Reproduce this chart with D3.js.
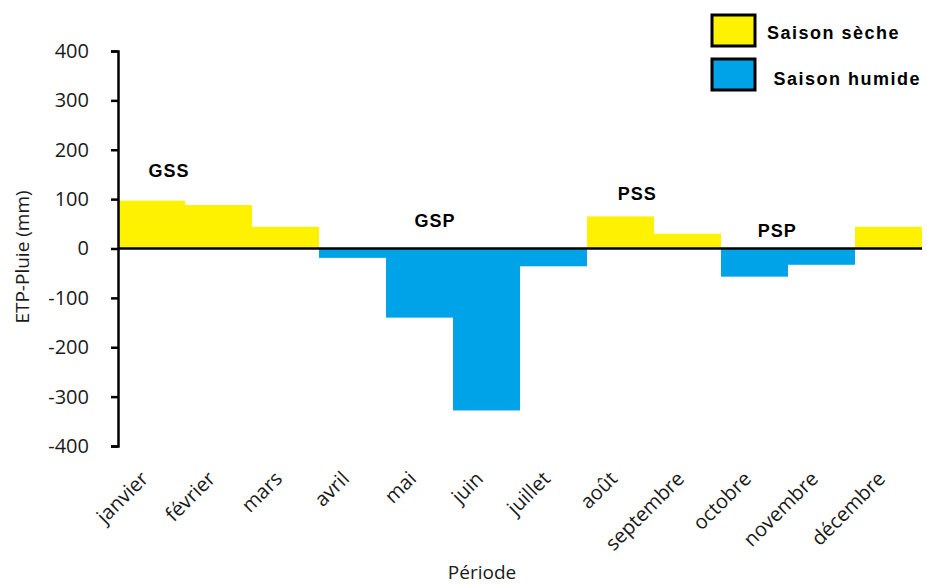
<!DOCTYPE html>
<html><head><meta charset="utf-8">
<script src="https://cdn.jsdelivr.net/npm/d3@7"></script>
<style>body{margin:0;background:#fff}svg{display:block}</style>
</head><body>
<svg id="c" width="927" height="586"></svg>
<script>
const months = ["janvier","février","mars","avril","mai","juin","juillet","août","septembre","octobre","novembre","décembre"];
const values = [97, 88, 44, -19, -140, -328, -36, 65, 30, -57, -33, 44];
const yTicks = [400, 300, 200, 100, 0, -100, -200, -300, -400];
const periodLabels = ["GSS", "GSP", "PSS", "PSP"];
const periodAt = ["janvier", "mai", "août", "octobre"];
const periodFrac = [0.76, 0.73, 0.75, 0.84];
const periodVal = [145, 44, 99, 24];
const legendLabels = ["Saison sèche", " Saison humide"];
const colors = {dry: "#FFF200", wet: "#00A2E8"};

const FONT = "Open Sans, Liberation Sans, sans-serif";
const BOLD = "Liberation Sans, Arial, sans-serif";
const svg = d3.select("#c");
const x = d3.scaleBand().domain(months).range([118, 922]).padding(0);
const y = d3.scaleLinear().domain([-400, 400]).range([446, 51]);

svg.append("g").selectAll("rect").data(values).join("rect")
  .attr("x", (d,i) => x(months[i]))
  .attr("width", x.bandwidth())
  .attr("y", d => y(Math.max(0,d)))
  .attr("height", d => Math.abs(y(d) - y(0)))
  .attr("fill", d => d >= 0 ? colors.dry : colors.wet);

// y axis
const ya = svg.append("g").attr("transform", "translate(118,0)")
  .call(d3.axisLeft(y).tickValues(yTicks).tickSize(7).tickPadding(22).tickFormat(d => String(d)));
ya.select(".domain").attr("stroke", "#000").attr("stroke-width", 2.5);
ya.selectAll(".tick line").attr("stroke", "#000").attr("stroke-width", 2.5);
ya.selectAll("text").attr("font-family", FONT).attr("font-size", 20).attr("fill", "#1a1a1a");

// zero line
svg.append("line").attr("x1", 118).attr("x2", 922).attr("y1", y(0)).attr("y2", y(0))
  .attr("stroke", "#000").attr("stroke-width", 2.5);

// x labels
const xa = svg.append("g").attr("transform", "translate(0,452)")
  .call(d3.axisBottom(x).tickSize(0).tickPadding(0));
xa.select(".domain").remove();
xa.selectAll("text")
  .attr("font-family", FONT).attr("font-size", 20).attr("fill", "#1a1a1a")
  .attr("text-anchor", "end").attr("dy", 0).attr("dx", 0)
  .attr("transform", "translate(-2,28) rotate(-45)");

// period labels
svg.append("g").selectAll("text").data(periodLabels).join("text")
  .attr("x", (d,i) => x(periodAt[i]) + periodFrac[i] * x.bandwidth())
  .attr("y", (d,i) => y(periodVal[i]))
  .attr("text-anchor", "middle")
  .attr("font-family", BOLD).attr("font-weight", "bold").attr("font-size", 18)
  .attr("letter-spacing", 1)
  .text(d => d);

// axis titles
svg.append("text").attr("transform", "translate(29,257) rotate(-90)").attr("text-anchor", "middle")
  .attr("font-family", FONT).attr("font-size", 19).attr("fill", "#1a1a1a")
  .text("ETP-Pluie (mm)");
svg.append("text").attr("x", 482).attr("y", 579).attr("text-anchor", "middle")
  .attr("font-family", FONT).attr("font-size", 19).attr("fill", "#1a1a1a")
  .text("Période");

// legend
const lg = svg.append("g");
[colors.dry, colors.wet].forEach((c, i) => {
  lg.append("rect").attr("x", 712).attr("y", 15 + i*44).attr("width", 43).attr("height", 31)
    .attr("fill", c).attr("stroke", "#000").attr("stroke-width", 3);
  lg.append("text").attr("x", 767).attr("y", 39 + i*46)
    .attr("font-family", BOLD).attr("font-weight", "bold").attr("font-size", 18)
    .attr("letter-spacing", 1.5)
    .style("white-space", "pre")
    .text(legendLabels[i]);
});
</script>
</body></html>
